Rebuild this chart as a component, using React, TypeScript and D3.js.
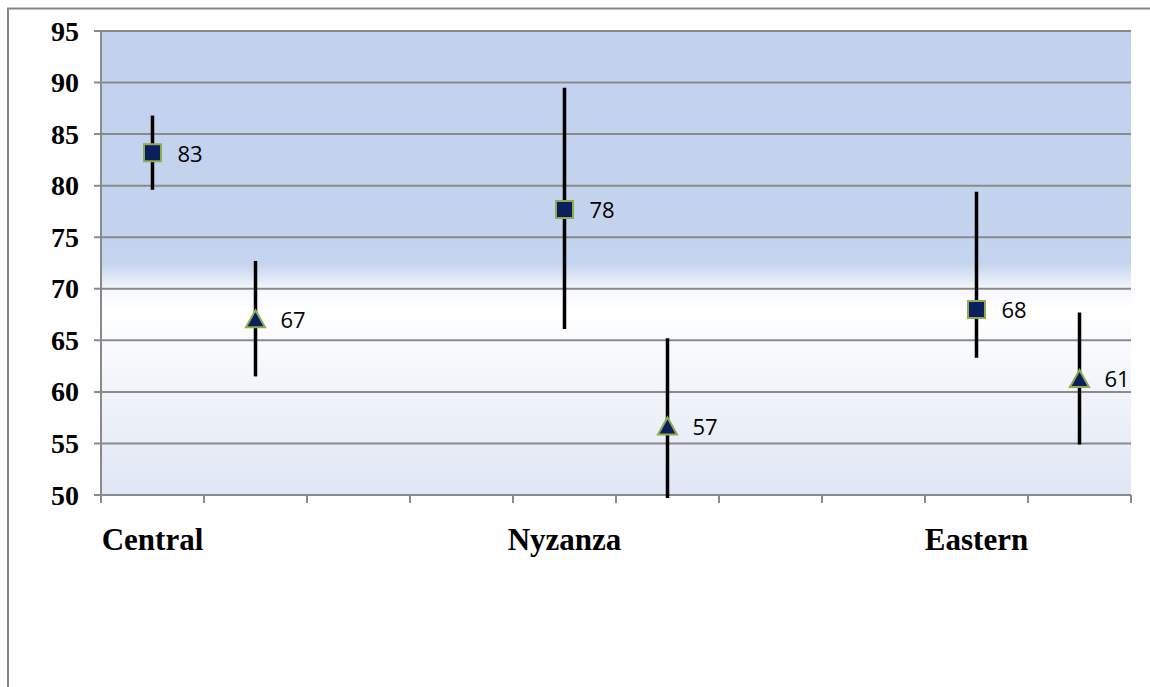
import React from "react";
import * as d3 from "d3";

// Category slots on the x axis (10 slots, region names on the first slot of each group)
const slotLabels = ["Central", "", "", "", "Nyzanza", "", "", "", "Eastern", ""];
const regions = ["Central", "Nyzanza", "Eastern"];
const regionSlots = [0, 4, 8];

// Series A (squares)
const squareValues = [83.2, 77.7, 68.0];
const squareHigh = [86.8, 89.5, 79.4];
const squareLow = [79.6, 66.1, 63.3];

// Series B (triangles)
const triangleValues = [67.1, 56.7, 61.3];
const triangleHigh = [72.7, 65.2, 67.7];
const triangleLow = [61.5, 49.7, 54.9];

const yTicks = [50, 55, 60, 65, 70, 75, 80, 85, 90, 95];

const W = 1150;
const H = 687;
const plot = { left: 101, right: 1131, top: 31, bottom: 495 };

export default function App() {
  const x = d3
    .scaleBand<number>()
    .domain(d3.range(slotLabels.length))
    .range([plot.left, plot.right])
    .padding(0);
  const y = d3.scaleLinear().domain([50, 95]).range([plot.bottom, plot.top]);
  const cx = (slot: number) => (x(slot) as number) + x.bandwidth() / 2;
  const fmt = d3.format(".0f");

  const gridColor = "#8a8a8a";
  const navy = "#0b1f5c";
  const green = "#8faa4f";

  const squarePath = d3.symbol().type(d3.symbolSquare).size(17 * 17)() as string;
  const tri = d3.path();
  tri.moveTo(0, -8.5);
  tri.lineTo(9.5, 8.5);
  tri.lineTo(-9.5, 8.5);
  tri.closePath();
  const trianglePath = tri.toString();

  const series = [
    { values: squareValues, high: squareHigh, low: squareLow, offset: 0, path: squarePath },
    { values: triangleValues, high: triangleHigh, low: triangleLow, offset: 1, path: trianglePath },
  ];

  const boundaries = d3.range(slotLabels.length + 1).map((i) =>
    i < slotLabels.length ? (x(i) as number) : plot.right
  );

  return (
    <div style={{ position: "fixed", left: 0, top: 0, width: W, height: H, overflow: "hidden", background: "#fff" }}>
      <svg width={W} height={H} style={{ display: "block" }}>
        <defs>
          <linearGradient id="bg" x1="0" y1="0" x2="0" y2="1">
            <stop offset="0" stopColor="#c2d1ed" />
            <stop offset="0.5" stopColor="#c4d3ee" />
            <stop offset="0.555" stopColor="#f4f7fc" />
            <stop offset="0.6" stopColor="#ffffff" />
            <stop offset="1" stopColor="#dfe6f4" />
          </linearGradient>
          <clipPath id="plotClip">
            <rect x={plot.left} y={plot.top - 10} width={plot.right - plot.left + 20} height={plot.bottom - plot.top + 14} />
          </clipPath>
        </defs>
        {/* outer chart border (top and left edges visible) */}
        <path d={`M8,${H + 10} L8,8.5 L${W + 10},8.5`} fill="none" stroke="#878787" strokeWidth={2} />
        {/* plot background */}
        <rect
          x={plot.left}
          y={plot.top}
          width={plot.right - plot.left}
          height={plot.bottom - plot.top}
          fill="url(#bg)"
        />
        {/* gridlines + y ticks */}
        {yTicks.map((t) => (
          <g key={t}>
            <line x1={plot.left - 7} x2={plot.right} y1={y(t)} y2={y(t)} stroke={gridColor} strokeWidth={2} />
            <text
              x={79}
              y={y(t)}
              textAnchor="end"
              dominantBaseline="central"
              fontFamily="'Liberation Serif', 'Times New Roman', serif"
              fontWeight="bold"
              fontSize={28}
              fill="#000"
            >
              {t}
            </text>
          </g>
        ))}
        {/* y axis line */}
        <line x1={plot.left} x2={plot.left} y1={plot.top} y2={plot.bottom + 8} stroke={gridColor} strokeWidth={2} />
        {/* x tick marks */}
        {boundaries.map((bx, i) => (
          <line key={i} x1={bx} x2={bx} y1={plot.bottom} y2={plot.bottom + 8} stroke={gridColor} strokeWidth={2} />
        ))}
        {/* x category labels */}
        {regions.map((r, i) => (
          <text
            key={r}
            x={cx(regionSlots[i])}
            y={550}
            textAnchor="middle"
            fontFamily="'Liberation Serif', 'Times New Roman', serif"
            fontWeight="bold"
            fontSize={31}
            fill="#000"
          >
            {slotLabels[regionSlots[i]]}
          </text>
        ))}
        {/* error bars */}
        <g clipPath="url(#plotClip)">
          {series.map((s, si) =>
            s.values.map((v, i) => {
              const px = cx(regionSlots[i] + s.offset);
              return (
                <line
                  key={`e${si}-${i}`}
                  x1={px}
                  x2={px}
                  y1={y(s.high[i])}
                  y2={y(s.low[i])}
                  stroke="#000"
                  strokeWidth={3.5}
                />
              );
            })
          )}
        </g>
        {/* markers + labels */}
        {series.map((s, si) =>
          s.values.map((v, i) => {
            const px = cx(regionSlots[i] + s.offset);
            const py = y(v);
            return (
              <g key={`m${si}-${i}`}>
                <path d={s.path} transform={`translate(${px},${py})`} fill={navy} stroke={green} strokeWidth={2} />
                <text
                  x={px + 25}
                  y={py}
                  dominantBaseline="central"
                  fontFamily="'Open Sans', 'Noto Sans', sans-serif"
                  fontSize={22}
                  fill="#000"
                >
                  {fmt(v)}
                </text>
              </g>
            );
          })
        )}
      </svg>
    </div>
  );
}
